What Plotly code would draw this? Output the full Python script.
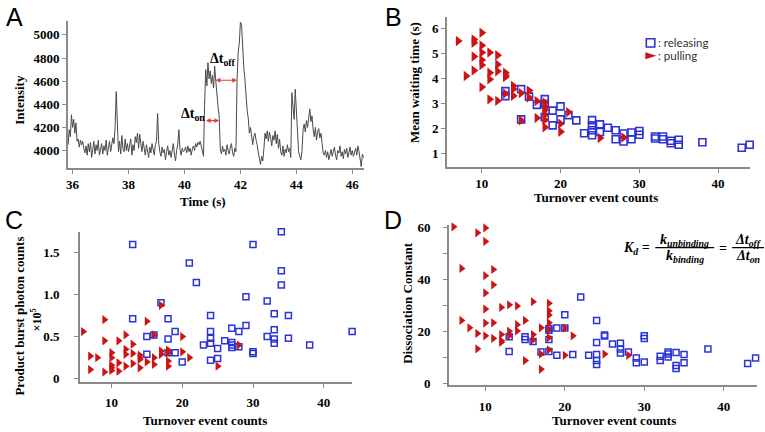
import plotly.graph_objects as go

W, H = 765, 432

def px(x):
    return x / W

def py(y):
    return 1 - y / H

# ---------------- Panel A : intensity trace ----------------
trace_t0 = 35.84       # first frame time (s)
trace_dt = 0.04        # frame interval (s)
intensity = [
    4050, 4180, 4120, 4310, 4200,
    4270, 4150, 4240, 4080, 4100, 4030, 4090, 4050, 4080, 4020, 3980, 4040, 3960, 4060, 3990, 4070,
    3940, 4010, 4080, 3970, 4050, 4000, 4090, 3960,
    4010, 4060, 3970, 4040, 4000, 4090, 3960, 4030, 4080, 3990, 4050, 4110, 4060, 4200, 4510, 4120,
    3990, 4080, 3970, 4130, 4020, 3990, 4100, 4000, 4060,
    3990, 4040, 4100, 3960, 4050, 4000, 4120, 4070, 4150, 4020, 4140, 4060, 3990, 4080, 4010, 3960,
    4050, 4000, 3940, 4030, 3980, 4060, 3990, 3960, 4050,
    4080, 4320, 4060, 3990, 3950, 4030, 3980, 4010, 3920, 3990, 4040, 3960, 4000, 3940, 4020, 4060,
    3970, 3910, 4000, 4050, 4180, 4010, 3960, 4020, 3990,
    4000, 4030, 3980, 4040, 3990, 4020, 3960, 4010, 4040, 4000, 4060, 4030, 4070, 4050, 4080, 4040,
    3990, 3950, 4400, 4700, 4560, 4760, 4620, 4690, 4580,
    4650, 4540, 4730, 4600, 4440, 4380, 4300, 4020, 3970, 4040, 3990, 4010, 3960, 4050, 4000, 3970,
    4030, 4060, 3980, 3950, 4020, 3990, 4600, 4850, 4930,
    5110, 5090, 4880, 4720, 4620, 4460, 4350, 4280, 4150, 4200, 4130, 4050, 4120, 4150, 4090, 4050,
    3980, 3940, 3880, 3950, 3910, 4020, 4150, 4100, 4170,
    4080, 4160, 4110, 4040, 4130, 4090, 4170, 4060, 4140, 4020, 4100, 3990, 3960, 4040, 3950, 4010,
    3980, 4050, 3990, 4020, 3940, 4500, 4380, 4270, 4530,
    4300, 4080, 3990, 3950, 3920, 3990, 4180, 4230, 4160, 4260, 4200, 4280, 4360, 4250, 4300, 4180,
    4120, 4200, 4090, 4160, 4190, 4110, 4150, 4060, 3980,
    3960, 4000, 3940, 3990, 3920, 3970, 4010, 3950, 3990, 4030, 3960, 3920, 4000, 3980, 4040, 3950,
    3990, 3930, 4010, 3970, 4020, 3940, 3980, 4030, 3960,
    4000, 3950, 3990, 4020, 3960, 4040, 3990, 3940, 3860, 3970, 3940,
]
time_s = [round(trace_t0 + i * trace_dt, 2) for i in range(len(intensity))]

# double-headed interval markers (time start, time end, intensity level)
dt_off_span = [41.06, 41.88, 4608]
dt_on_span = [40.71, 41.24, 4259]

# ---------------- Panel B : mean waiting time ----------------
b_rel_x = [13, 13, 15, 16, 17, 18, 18, 19, 20, 21, 22, 15, 18, 20, 19, 23, 24, 24, 24, 24, 25, 25,
           26, 27, 27, 28, 28, 29, 29, 30, 30, 32, 32, 33, 33, 34, 34, 35, 35, 38, 43, 44]
b_rel_y = [3.5, 3.3, 3.58, 3.28, 2.95, 3.18, 2.98, 2.72, 2.89, 2.54, 2.33, 2.37, 2.46, 2.37, 2.13,
           1.82, 2.34, 2.13, 1.94, 1.74, 2.17, 1.87, 2.04, 1.94, 1.58, 1.81, 1.49, 1.85, 1.58, 1.91,
           1.76, 1.69, 1.61, 1.69, 1.58, 1.52, 1.42, 1.56, 1.36, 1.46, 1.24, 1.36]
b_pul_x = [7, 9, 9, 10, 10, 9, 10, 11, 12, 10, 10, 12, 9, 8, 11, 12, 13, 13, 13, 11, 10, 14, 14, 14,
           13, 15, 16, 11, 12, 16, 17, 18, 18, 18, 18, 17, 15, 18, 18, 21, 20, 20, 25, 28]
b_pul_y = [5.5, 5.56, 5.43, 5.83, 5.32, 4.88, 5.04, 5.04, 4.93, 4.74, 4.54, 4.56, 4.32, 4.1, 4.23,
           4.29, 4.23, 4.12, 4.06, 3.97, 3.66, 3.71, 3.58, 3.31, 3.4, 3.42, 3.52, 3.17, 3.11, 3.24,
           3.1, 3.05, 2.9, 2.75, 2.56, 2.43, 2.33, 2.35, 2.06, 2.66, 2.2, 1.88, 1.63, 1.65]

# ---------------- Panel C : product burst photon counts (x1e5) ----------------
c_rel_x = [13, 13, 15, 15, 17, 16, 18, 18, 18, 19, 19, 20, 21, 22, 23, 24, 24, 24, 24, 24, 25, 25,
           26, 27, 27, 27, 27, 28, 28, 29, 29, 30, 30, 30, 32, 32, 33, 33, 33, 33, 34, 34, 34, 35,
           35, 38, 44]
c_rel_y = [1.59, 0.71, 0.5, 0.29, 0.9, 0.52, 0.71, 0.47, 0.31, 0.56, 0.31, 0.2, 1.37, 1.14, 0.4,
           0.75, 0.56, 0.48, 0.42, 0.22, 0.36, 0.24, 0.45, 0.6, 0.43, 0.4, 0.37, 0.56, 0.38, 0.97,
           0.63, 1.59, 0.32, 0.3, 0.92, 0.5, 0.77, 0.58, 0.47, 0.42, 1.74, 1.28, 1.11, 0.75, 0.48,
           0.4, 0.56]
c_pul_x = [6, 7, 7, 8, 9, 9, 9, 10, 10, 10, 10, 10, 11, 11, 11, 12, 12, 12, 12, 13, 13, 13, 14, 14,
           14, 14, 15, 15, 16, 16, 16, 17, 17, 17, 18, 18, 18, 18, 20, 20, 21, 25, 28]
c_pul_y = [0.56, 0.27, 0.11, 0.25, 0.7, 0.45, 0.08, 0.31, 0.25, 0.16, 0.13, 0.1, 0.45, 0.19, 0.09,
           0.52, 0.35, 0.29, 0.15, 0.41, 0.3, 0.18, 0.28, 0.25, 0.23, 0.13, 0.68, 0.2, 0.52, 0.25,
           0.17, 0.87, 0.33, 0.29, 0.34, 0.31, 0.21, 0.15, 0.5, 0.32, 0.25, 0.15, 0.4]

# ---------------- Panel D : dissociation constant ----------------
d_rel_x = [13, 13, 15, 15, 16, 17, 18, 18, 18, 18, 19, 19, 20, 20, 21, 22, 23, 24, 24, 24, 24, 24,
           25, 25, 26, 27, 27, 27, 28, 29, 29, 30, 30, 30, 32, 32, 33, 33, 33, 34, 34, 34, 35, 35,
           38, 43, 44]
d_rel_y = [18.1, 12.5, 18.1, 17.1, 16.3, 12.3, 21.3, 20.6, 17.1, 12.5, 21.5, 11, 26.6, 21.5, 11.3,
           33.4, 11, 24.4, 15.9, 11.3, 9, 7.5, 18.8, 18.4, 15.4, 15.6, 13.4, 11.9, 12.3, 10, 8.1,
           18.5, 17.5, 8.4, 10.6, 9, 12.3, 11.5, 10.4, 12.1, 7.1, 5.9, 11.3, 8.1, 13.4, 7.9, 10]
d_pul_x = [6, 7, 7, 8, 9, 9, 9, 10, 10, 10, 10, 10, 10, 10, 11, 11, 11, 11, 12, 12, 12, 12, 13, 13,
           13, 14, 14, 14, 15, 15, 16, 16, 16, 17, 17, 17, 18, 18, 18, 18, 18, 18, 18, 20, 20, 21,
           25, 28]
d_pul_y = [60.4, 44.4, 24.4, 21.6, 58.1, 19.4, 13.5, 60, 54.8, 41.6, 35, 28.8, 23.4, 18.5, 44, 38.1,
           23.5, 17.5, 29.4, 19, 16.6, 16, 30.4, 20.3, 18.5, 30, 22.8, 20.4, 24.4, 9, 31.6, 19, 16.9,
           21.6, 11.5, 5.6, 31, 28.1, 26.5, 23.5, 20.9, 17.8, 13.1, 21.5, 11, 18.5, 11.5, 11]

# ---------------- styling ----------------
BLUE = "#2b33d6"
RED = "#cc1414"
AXC = "#8a8a8a"
SERIF = "Liberation Serif"

fig = go.Figure()

fig.add_trace(go.Scatter(x=time_s, y=intensity, mode="lines",
                         line=dict(color="#4a4a4a", width=1),
                         xaxis="x", yaxis="y", showlegend=False))

def add_scatter(xr, yr, xp, yp, ax, sq, tri, lw):
    fig.add_trace(go.Scatter(x=xr, y=yr, mode="markers", xaxis="x" + ax, yaxis="y" + ax,
                             marker=dict(symbol="square-open", size=sq, color=BLUE,
                                         line=dict(color=BLUE, width=lw)),
                             showlegend=False, cliponaxis=False))
    fig.add_trace(go.Scatter(x=xp, y=yp, mode="markers", xaxis="x" + ax, yaxis="y" + ax,
                             marker=dict(symbol="triangle-right", size=tri, color=RED,
                                         line=dict(width=0)),
                             showlegend=False, cliponaxis=False))

add_scatter(b_rel_x, b_rel_y, b_pul_x, b_pul_y, "2", 7, 9, 1.6)
add_scatter(c_rel_x, c_rel_y, c_pul_x, c_pul_y, "3", 6, 8, 1.5)
add_scatter(d_rel_x, d_rel_y, d_pul_x, d_pul_y, "4", 6, 8, 1.5)

tickfont = dict(family=SERIF, size=13, color="black", weight="bold")

def axis(domain, rng, anchor, **kw):
    d = dict(domain=domain, range=rng, anchor=anchor, showline=True, linecolor=AXC,
             linewidth=1.5, ticks="outside", ticklen=4, tickwidth=1.2, tickcolor=AXC,
             showgrid=False, zeroline=False, tickfont=tickfont)
    d.update(kw)
    return d

layout = dict(
    width=W, height=H, margin=dict(l=0, r=0, t=0, b=0),
    paper_bgcolor="white", plot_bgcolor="white", showlegend=False,
    # A
    xaxis=axis([px(66), px(363)], [35.83, 46.42], "y", tickvals=[36, 38, 40, 42, 44, 46]),
    yaxis=axis([py(168), py(17)], [3848, 5124], "x",
               tickvals=[4000, 4200, 4400, 4600, 4800, 5000]),
    # B
    xaxis2=axis([px(446), px(750)], [5.57, 44.05], "y2", tickvals=[10, 20, 30, 40]),
    yaxis2=axis([py(167), py(13)], [0.465, 6.47], "x2", tickvals=[1, 2, 3, 4, 5, 6]),
    # C
    xaxis3=axis([px(78), px(351.4)], [5.53, 44.05], "y3", tickvals=[10, 20, 30, 40],
                ticklabelstandoff=4),
    yaxis3=axis([py(387), py(233)], [-0.038, 1.742], "x3", tickvals=[0, 0.5, 1.0, 1.5],
                ticktext=["0", "0.5", "1.0", "1.5"], ticklabelstandoff=12),
    # D
    xaxis4=axis([px(448), px(757)], [5.41, 44.18], "y4", tickvals=[10, 20, 30, 40],
                ticklabelstandoff=5),
    yaxis4=axis([py(390), py(226)], [-0.4, 61.2], "x4",
                tickvals=[0, 10, 20, 30, 40, 50, 60],
                ticktext=["0", "", "20", "", "40", "", "60"], ticklabelstandoff=10),
)
fig.update_layout(**layout)

ann = []

def text(x, y, s, size=13, rot=0, family=SERIF, color="black", xanchor="center", bold=True):
    ann.append(dict(x=px(x), y=py(y), xref="paper", yref="paper", text=(f"<b>{s}</b>" if bold else s),
                    showarrow=False, textangle=rot, xanchor=xanchor, yanchor="middle",
                    font=dict(family=family, size=size, color=color)))

# panel letters
for (lx, ly, L) in [(13, 13, "A"), (393, 13, "B"), (12, 221, "C"), (392, 221, "D")]:
    text(lx, ly, L, size=25, family="Liberation Sans", bold=False)

# axis titles
text(202, 202, "Time (s)")
text(18, 98, "Intensity", rot=-90)
text(596, 198, "Turnover event counts")
text(413, 80, "Mean waiting time (s)", rot=-90)
text(204, 426, "Turnover event counts")
text(18, 319, "Product burst photon counts", rot=-90)
text(35, 323, "×10<sup>5</sup>", rot=-90, size=12)
text(614, 426, "Turnover event counts")
text(407, 306, "Dissociation Constant", rot=-90)

# panel A interval labels
text(222, 57, "Δt<sub>off</sub>", size=14)
text(192, 113, "Δt<sub>on</sub>", size=14)

for (t0, t1, lev) in [dt_off_span, dt_on_span]:
    ann.append(dict(x=t1, y=lev, ax=t0, ay=lev, xref="x", yref="y", axref="x", ayref="y",
                    showarrow=True, arrowhead=2, arrowside="end+start", arrowsize=0.8,
                    arrowwidth=1.2, arrowcolor="#e0403a", text=""))

# panel B legend text
text(656, 39.5, ": releasing", size=11.5, family="Lato", color="#333", xanchor="left", bold=False)
text(656, 53, ": pulling", size=11.5, family="Lato", color="#333", xanchor="left", bold=False)

# panel D formula
text(636, 250, "<i>K<sub>d</sub></i> =", size=14)
text(684.5, 242, "<i>k<sub>unbinding</sub></i>", size=14)
text(684.5, 258, "<i>k<sub>binding</sub></i>", size=14)
text(723, 250, "=", size=14)
text(748, 242, "<i>Δt<sub>off</sub></i>", size=14)
text(748, 258, "<i>Δt<sub>on</sub></i>", size=14)

fig.update_layout(annotations=ann)

shapes = [
    dict(type="line", xref="paper", yref="paper", x0=px(655), x1=px(714), y0=py(249.5), y1=py(249.5),
         line=dict(color="black", width=1.3)),
    dict(type="line", xref="paper", yref="paper", x0=px(732), x1=px(764), y0=py(249.5), y1=py(249.5),
         line=dict(color="black", width=1.3)),
    # legend keys
    dict(type="rect", xref="paper", yref="paper", x0=px(646), x1=px(654.5), y0=py(44), y1=py(35.5),
         line=dict(color=BLUE, width=1.6)),
    dict(type="path", xref="paper", yref="paper",
         path=f"M {px(645)},{py(49.5)} L {px(656)},{py(53)} L {px(645)},{py(56.5)} Z",
         fillcolor=RED, line=dict(width=0)),
]
fig.update_layout(shapes=shapes)

fig.write_html("out.html", config={"displayModeBar": False},
               post_script="document.body.style.margin='0';document.body.style.overflow='hidden';")
